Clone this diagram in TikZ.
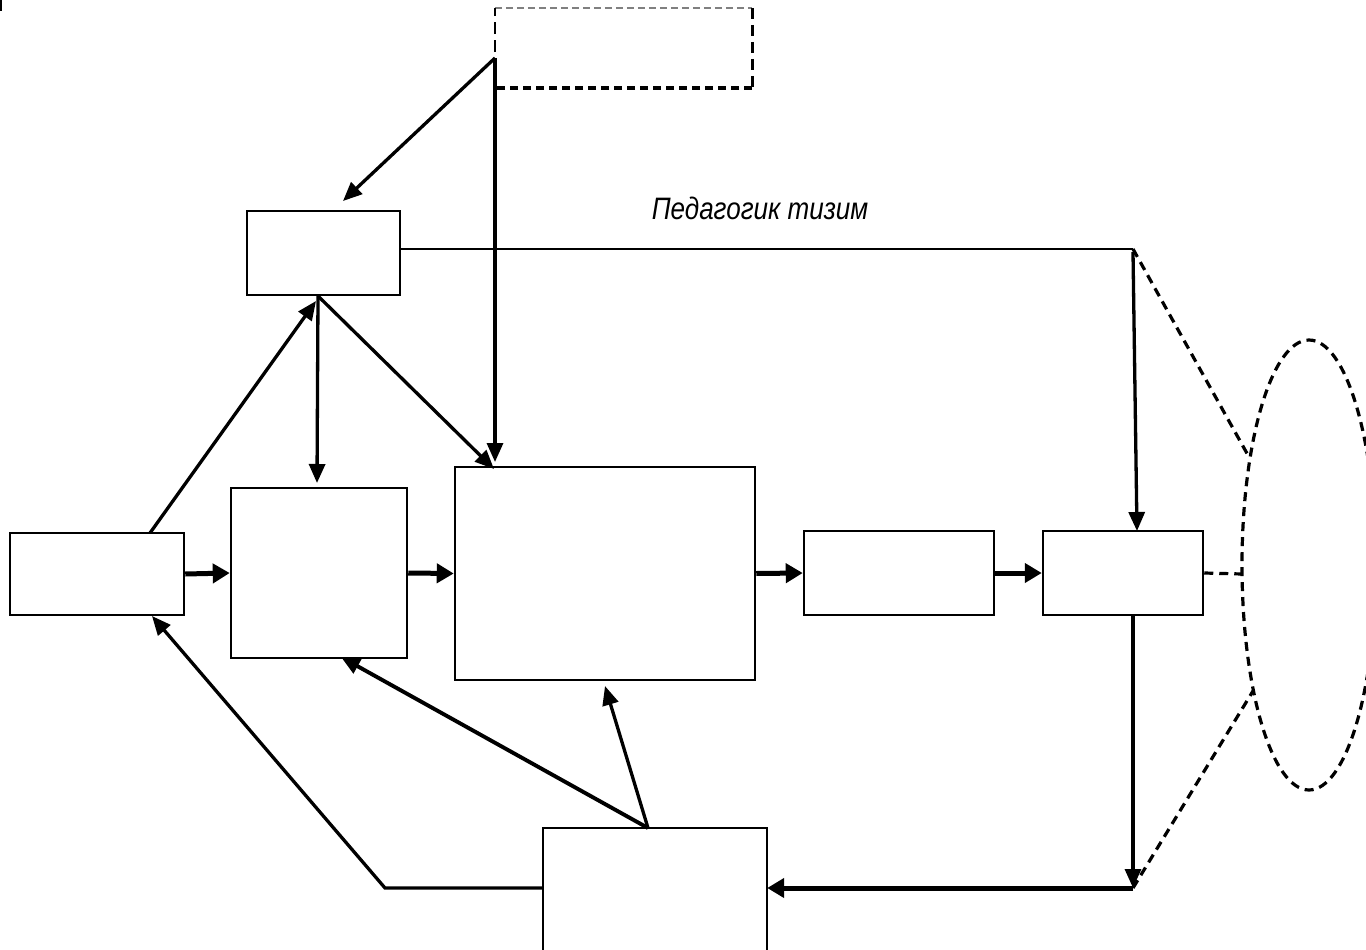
\documentclass[tikz,border=0pt]{standalone}
\usepackage{fontspec}
\newfontfamily\labfont{Liberation Sans}
\usetikzlibrary{arrows.meta,calc,shapes.geometric}
\begin{document}
\begin{tikzpicture}[x=1pt,y=-1pt,
  box/.style={draw=black,line width=2.5pt,rectangle,inner sep=0pt,fill=none},
  con/.style={line width=3.3pt,-{Triangle[length=19pt,width=16pt]}},
  thickcon/.style={line width=5pt,-{Triangle[length=17pt,width=19pt]}},
  plain/.style={line width=2.5pt},
  dsh/.style={line width=3.2pt,dash pattern=on 9pt off 6pt},
  lab/.style={font=\labfont\itshape\fontsize{31}{34}\selectfont,inner sep=0pt,xscale=0.84,transform shape}
]
\clip (0,0) rectangle (1366,950);
\fill[white] (0,0) rectangle (1366,950);
% tiny mark at top-left corner
\draw[line width=2.5pt] (1,0) -- (1,11);

% boxes
\node[box,minimum width=153pt,minimum height=84pt] (A) at (323.5,253) {};
\node[box,minimum width=174pt,minimum height=82pt] (B) at (97,574) {};
\node[box,minimum width=176pt,minimum height=170pt] (C) at (319,573) {};
\node[box,minimum width=300pt,minimum height=213pt] (E) at (605,573.5) {};
\node[box,minimum width=190pt,minimum height=84pt] (F) at (899,573) {};
\node[box,minimum width=160pt,minimum height=84pt] (G) at (1123,573) {};
% bottom box (cut by the page edge)
\node[minimum width=224pt,minimum height=140pt,inner sep=0pt] (H) at (655,898) {};
\draw[line width=2.5pt] (H.south west) -- (H.north west) -- (H.north east) -- (H.south east);
% dashed box
\node[minimum width=257pt,minimum height=80pt,inner sep=0pt] (D) at (623.5,48) {};
\draw[line width=1.5pt,gray,dash pattern=on 7pt off 4pt] (D.north west) -- (D.north east);
\draw[line width=3.2pt,dash pattern=on 11pt off 6pt] (D.north east) -- (D.south east);
\draw[line width=3.4pt,dash pattern=on 8pt off 5pt] (D.south east) -- (D.south west);
\draw[line width=2.6pt,dash pattern=on 12pt off 6pt] (D.south west) -- (D.north west);

% ellipse
\node[draw,ellipse,line width=3.2pt,dash pattern=on 9pt off 6pt,minimum width=134pt,minimum height=450pt,inner sep=0pt] (O) at (1309,565) {};

% label
\node[lab,anchor=base] (L) at (760,219) {Педагогик тизим};

% helper coordinates
\coordinate (dhub) at (495,58);
\coordinate (ahub) at (318,296);
\coordinate (hhub) at (648,828);
\coordinate (r1) at (1133,249);
\coordinate (r2) at (1133,888);
\coordinate (k1) at (385,888);
\coordinate (eu) at (1249,457);
\coordinate (el) at (1253,691);
\coordinate (eml) at (1242,574);

% connectors from dashed box
\draw[con] (dhub) -- (343,201);
\draw[con] (dhub) -- (495,462);
% from A hub
\draw[con] (ahub) -- (317,483);
\draw[con] (ahub) -- (494,469);
\draw[con] (150,533) -- (316,301);
% main chain
\draw[thickcon] (B.east) -- (C.west);
\draw[thickcon] (C.east) -- (E.west);
\draw[thickcon] (E.east) -- (F.west);
\draw[thickcon] (F.east) -- (G.west);
% top line and right side
\draw[plain] (A.east |- r1) -- (r1);
\draw[con] (1133,252) -- (1137,531);
\draw[con] (1133,615) -- (r2);
\draw[thickcon] (r2) -- (H.east |- r2);
% from bottom box
\draw[con,line width=3.9pt] (hhub) -- (341,657);
\draw[con] (hhub) -- (605,686);
\draw[con] (H.west |- r2) -- (k1) -- (152,616);
% dashed links
\draw[dsh] (r1) -- (eu);
\draw[dsh] (r2) -- (el);
\draw[dsh] (G.east) -- (eml);
\end{tikzpicture}
\end{document}
